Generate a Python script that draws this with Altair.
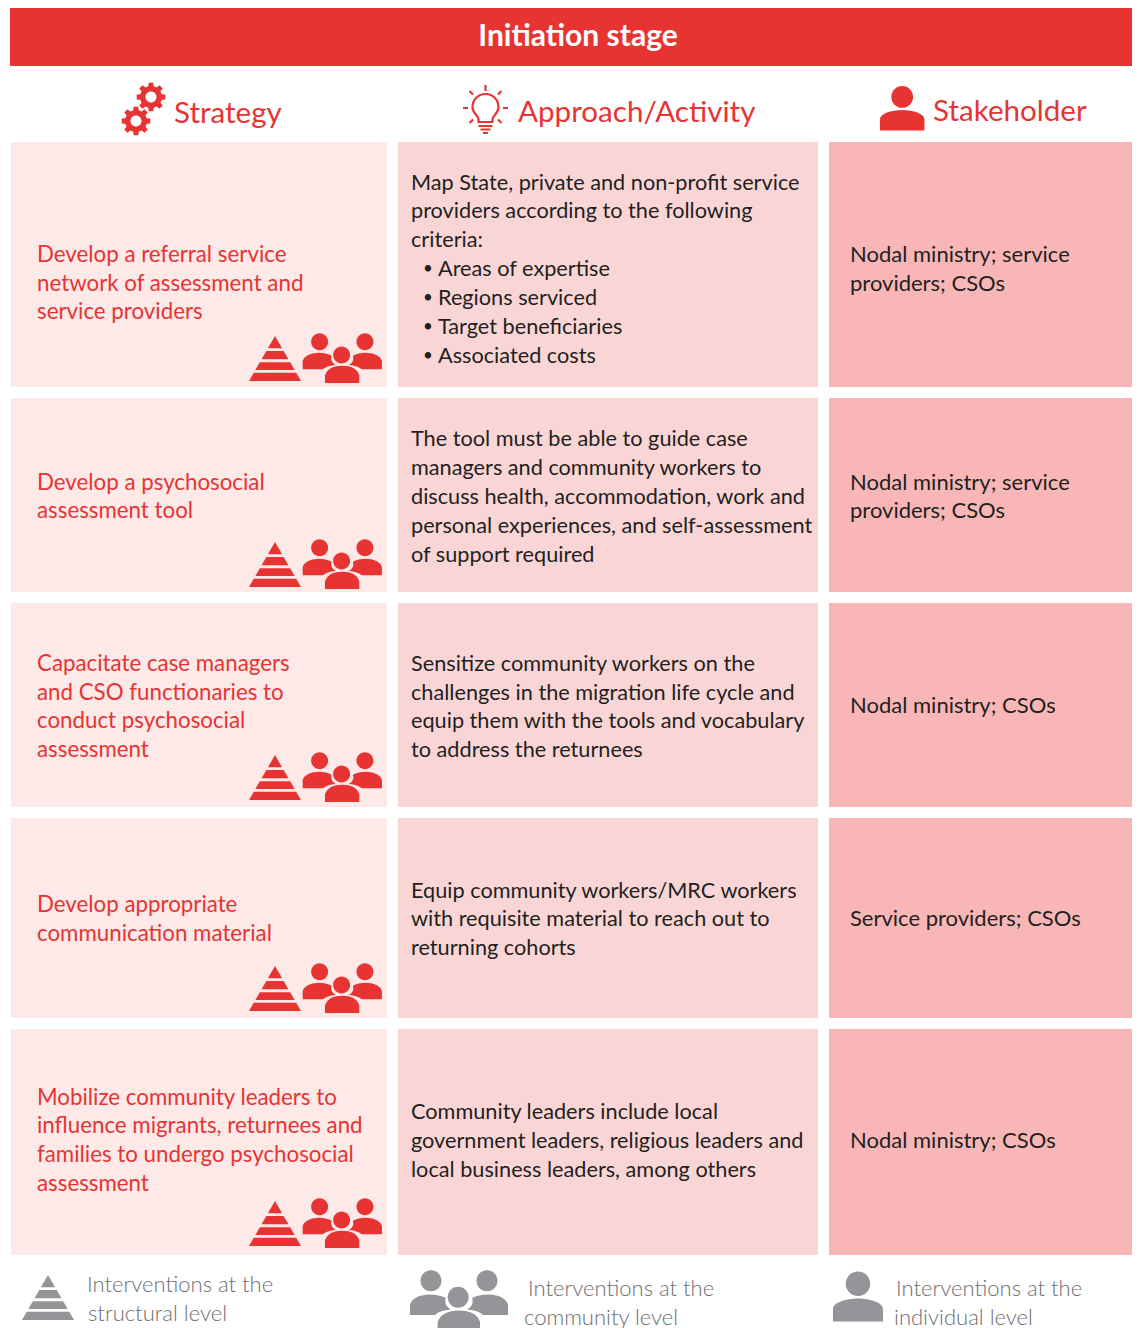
import math
import altair as alt
import pandas as pd

# ---------- content ----------
TITLE = "Initiation stage"
HEADERS = ["Strategy", "Approach/Activity", "Stakeholder"]
STRATEGY = [
    ["Develop a referral service", "network of assessment and", "service providers"],
    ["Develop a psychosocial", "assessment tool"],
    ["Capacitate case managers", "and CSO functionaries to", "conduct psychosocial", "assessment"],
    ["Develop appropriate", "communication material"],
    ["Mobilize community leaders to", "influence migrants, returnees and", "families to undergo psychosocial", "assessment"],
]
APPROACH = [
    ["Map State, private and non-profit service", "providers according to the following", "criteria:",
     "Areas of expertise", "Regions serviced", "Target beneficiaries", "Associated costs"],
    ["The tool must be able to guide case", "managers and community workers to", "discuss health, accommodation, work and",
     "personal experiences, and self-assessment", "of support required"],
    ["Sensitize community workers on the", "challenges in the migration life cycle and",
     "equip them with the tools and vocabulary", "to address the returnees"],
    ["Equip community workers/MRC workers", "with requisite material to reach out to", "returning cohorts"],
    ["Community leaders include local", "government leaders, religious leaders and", "local business leaders, among others"],
]
STAKEHOLDER = [
    ["Nodal ministry; service", "providers; CSOs"],
    ["Nodal ministry; service", "providers; CSOs"],
    ["Nodal ministry; CSOs"],
    ["Service providers; CSOs"],
    ["Nodal ministry; CSOs"],
]
LEGEND = [["Interventions at the", "structural level"],
          ["Interventions at the", "community level"],
          ["Interventions at the", "individual level"]]

# ---------- layout (page pixels) ----------
X0, X1, Y0, Y1 = 8, 1132, 8, 1328
COLS = [(11, 387), (398, 818), (829, 1140)]
ROWS = [(142, 387), (398, 592), (603, 807), (818, 1018), (1029, 1255)]
CELL_COLORS = ["#FCE9E8", "#F9D5D6", "#F8B6B7"]
RED, DARK, GREY, GREYTXT = "#E73433", "#231F20", "#939598", "#6D6E71"
FONT = "Lato"

STRAT_Y = [[255, 284, 312], [483, 511], [664, 693, 721, 750], [905, 934], [1098, 1126, 1155, 1184]]
APPR_Y = [[183, 211, 240, 269, 298, 327, 356], [439, 468, 497, 526, 555], [664, 693, 721, 750], [891, 919, 948], [1112, 1141, 1170]]
STAKE_Y = [[255, 284], [483, 511], [706], [919], [1141]]
PYR_Y = [358.5, 564.5, 777.5, 988.5, 1223.5]

x_s = alt.Scale(domain=[X0, X1], nice=False, zero=False)
y_s = alt.Scale(domain=[Y1, Y0], nice=False, zero=False)
X = lambda f: alt.X(f, type="quantitative", scale=x_s, axis=None)
Y = lambda f: alt.Y(f, type="quantitative", scale=y_s, axis=None)


def rects(rows, color):
    return alt.Chart(pd.DataFrame(rows)).mark_rect(color=color).encode(
        x=X("a"), x2="b", y=Y("c"), y2="d")


def texts(rows, color, size, weight="normal", align="left"):
    return alt.Chart(pd.DataFrame(rows)).mark_text(
        color=color, font=FONT, fontSize=size, fontWeight=weight, align=align, baseline="middle"
    ).encode(x=X("x"), y=Y("y"), text="t:N")


def icon(path, pts, width, color, filled=True, sw=0):
    kw = dict(fill=color, filled=True, strokeWidth=0) if filled else dict(stroke=color, filled=False, strokeWidth=sw)
    return alt.Chart(pd.DataFrame(pts)).mark_point(
        shape=path, size=width * width, opacity=1, **kw
    ).encode(x=X("x"), y=Y("y"))


# ---------- icon shapes (unit box -1..1) ----------
def f(v):
    return f"{v:.3f}"


def pyramid():
    bands = [(0, 12.3), (15, 23.3), (26.3, 34), (36.7, 45)]
    d = ""
    for a, b in bands:
        ya, yb = (a - 22.5) / 26, (b - 22.5) / 26
        d += f"M{f(-a/45)},{f(ya)}L{f(a/45)},{f(ya)}L{f(b/45)},{f(yb)}L{f(-b/45)},{f(yb)}Z"
    return d


PERSON = ("M0,-1A0.49,0.49 0 1 1 0,-0.02A0.49,0.49 0 1 1 0,-1Z"
          "M-1,1L-1,0.5C-1,0.25 -0.5,0.08 0,0.08C0.5,0.08 1,0.25 1,0.5L1,1Z")


def people():
    def sc(px, py):
        return f"{f((px-322)/119)},{f((py-99)/119)}"

    def circ(cx, cy, r=25.5):
        rr = r / 119
        return (f"M{sc(cx-r,cy)}A{f(rr)},{f(rr)} 0 1 1 {sc(cx+r,cy)}"
                f"A{f(rr)},{f(rr)} 0 1 1 {sc(cx-r,cy)}Z")
    d = circ(254, 50) + circ(390, 50) + circ(320, 90)
    d += (f"M{sc(203,133)}L{sc(203,108)}Q{sc(210,85)} {sc(250,83)}Q{sc(275,83)} {sc(290,92)}"
          f"Q{sc(285,110)} {sc(302,120)}Q{sc(275,122)} {sc(264,133)}Z")
    d += (f"M{sc(441,133)}L{sc(441,108)}Q{sc(434,85)} {sc(394,83)}Q{sc(369,83)} {sc(354,92)}"
          f"Q{sc(359,110)} {sc(342,120)}Q{sc(369,122)} {sc(380,133)}Z")
    d += (f"M{sc(270,174)}L{sc(270,150)}Q{sc(280,122)} {sc(322,122)}Q{sc(364,122)} {sc(373,150)}L{sc(373,174)}Z")
    return d


def gear():
    teeth, outer, root = 8, 1.0, 0.76
    pts = []
    for i in range(teeth):
        a = 2 * math.pi * i / teeth
        w = math.pi / teeth
        for da, r in [(-0.62 * w, root), (-0.42 * w, outer), (0.42 * w, outer), (0.62 * w, root)]:
            pts.append((r * math.cos(a + da), r * math.sin(a + da)))
    d = "M" + "L".join(f"{f(x)},{f(y)}" for x, y in pts) + "Z"
    h = 0.38
    d += f"M{f(h)},0A{h},{h} 0 1 0 {f(-h)},0A{h},{h} 0 1 0 {f(h)},0Z"
    return d


def bulb():
    def sc(px, py):
        return f"{f(px/22.5)},{f(py/22.5)}"
    r = 13 / 22.5
    d = (f"M{sc(-7,13)}L{sc(-7,10)}C{sc(-8,6)} {sc(-13,4)} {sc(-13,-2)}"
         f"A{f(r)},{f(r)} 0 1 1 {sc(13,-2)}C{sc(13,4)} {sc(8,6)} {sc(7,10)}L{sc(7,13)}Z")
    for a, b, c, e in [(0, -24, 0, -18), (-22.5, -1, -17.5, -1), (17.5, -1, 22.5, -1),
                       (-16, -18, -12.5, -14.5), (16, -18, 12.5, -14.5),
                       (-16, 14, -12.5, 10.5), (16, 14, 12.5, 10.5),
                       (-7, 17, 7, 17), (-5, 20.5, 5, 20.5), (-2.5, 24, 2.5, 24)]:
        d += f"M{sc(a,b)}L{sc(c,e)}"
    return d


# ---------- layers ----------
layers = [rects([{"a": 10, "b": 1140, "c": Y0, "d": 66}], RED)]
for c, (a, b) in enumerate(COLS):
    layers.append(rects([{"a": a, "b": b, "c": r0, "d": r1} for r0, r1 in ROWS], CELL_COLORS[c]))

layers.append(texts([{"x": 578, "y": 37, "t": TITLE}], "#FFFFFF", 30, 700, "center"))
layers.append(texts([{"x": x, "y": y, "t": t} for x, y, t in
                     zip([174, 518, 933], [114, 113, 112], HEADERS)], RED, 29.6))

strat = [{"x": 37, "y": y, "t": t} for L, Ys in zip(STRATEGY, STRAT_Y) for t, y in zip(L, Ys)]
layers.append(texts(strat, RED, 22.3))

appr, bullets = [], []
for r, (L, Ys) in enumerate(zip(APPROACH, APPR_Y)):
    for i, (t, y) in enumerate(zip(L, Ys)):
        bullet = r == 0 and i >= 3
        appr.append({"x": 438 if bullet else 411, "y": y, "t": t})
        if bullet:
            bullets.append({"x": 423, "y": y, "t": "•"})
layers.append(texts(appr, DARK, 21.7))
layers.append(texts(bullets, DARK, 17))

stake = [{"x": 850, "y": y, "t": t} for L, Ys in zip(STAKEHOLDER, STAKE_Y) for t, y in zip(L, Ys)]
layers.append(texts(stake, DARK, 22))

leg_x = [[87, 88], [528, 524], [896, 894]]
leg_y = [[1285, 1314], [1289, 1318], [1289, 1318]]
leg = [{"x": x, "y": y, "t": t} for L, Xs, Ys in zip(LEGEND, leg_x, leg_y)
       for t, x, y in zip(L, Xs, Ys)]
layers.append(texts(leg, GREYTXT, 22, 300))

layers.append(icon(pyramid(), [{"x": 275, "y": y} for y in PYR_Y], 52, RED))
layers.append(icon(people(), [{"x": 342.3, "y": y - 0.5} for y in PYR_Y], 79.3, RED))
layers.append(icon(gear(), [{"x": 151, "y": 97}, {"x": 136, "y": 121}], 29, RED))
layers.append(icon(bulb(), [{"x": 485.5, "y": 109}], 45, RED, filled=False, sw=2.2))
layers.append(icon(PERSON, [{"x": 902.2, "y": 108.3}], 44.5, RED))
layers.append(icon(pyramid(), [{"x": 48, "y": 1297.5}], 52, GREY))
layers.append(icon(people(), [{"x": 459, "y": 1301}], 98, GREY))
layers.append(icon(PERSON, [{"x": 858, "y": 1296.5}], 50, GREY))

chart = alt.layer(*layers).properties(
    width=X1 - X0, height=Y1 - Y0, padding=0, autosize=alt.AutoSizeParams(type="none")
).configure_view(stroke=None)

chart.save("out.html", embed_options={"renderer": "svg", "actions": False})
